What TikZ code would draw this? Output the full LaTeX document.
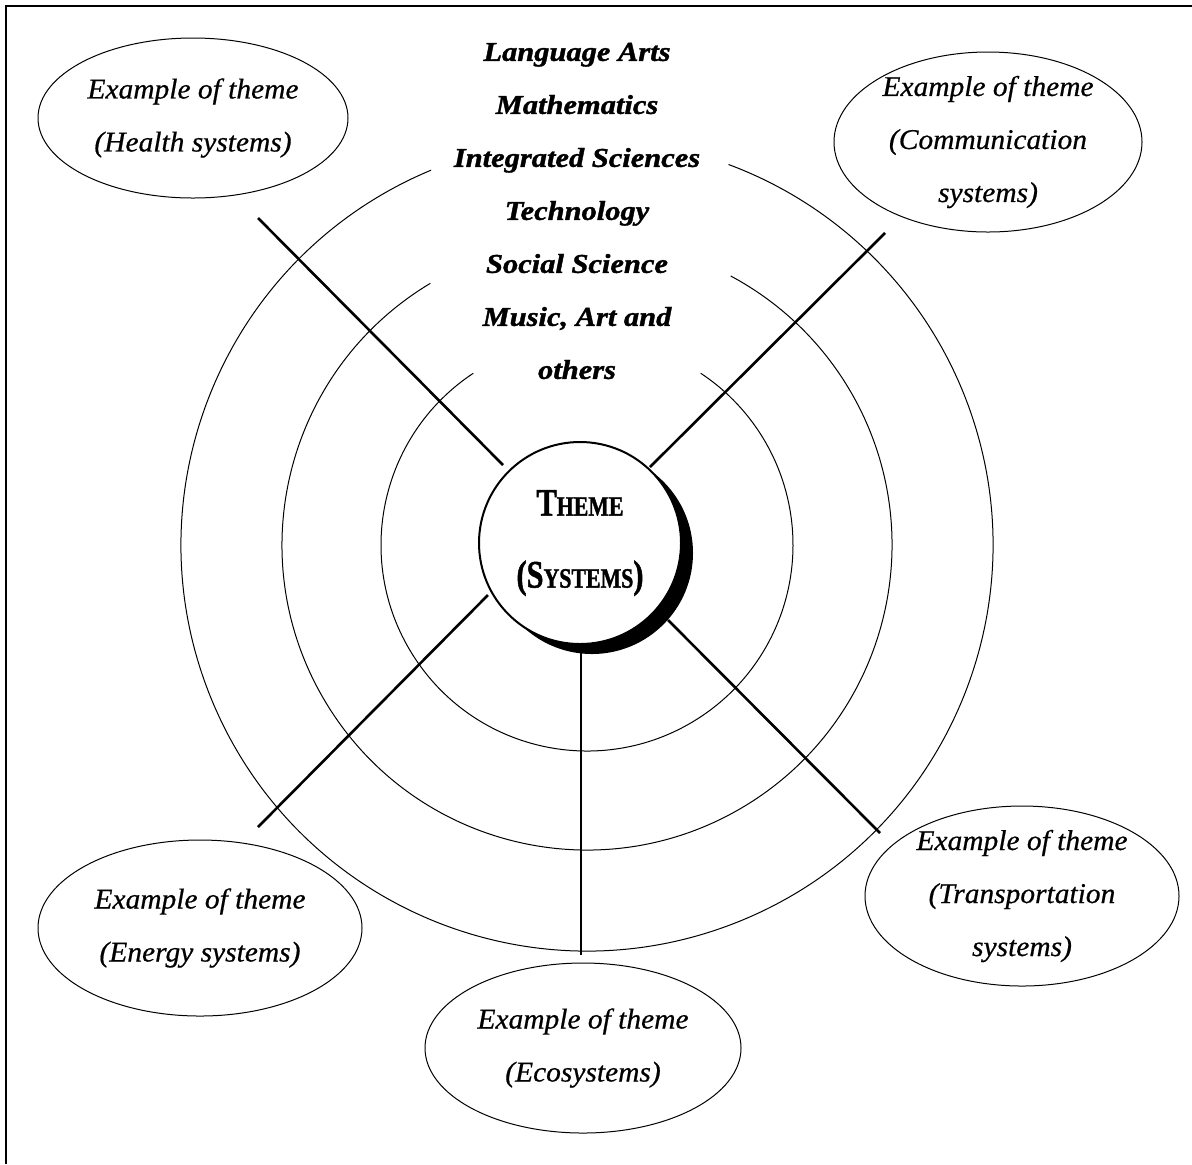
\documentclass[tikz,border=0pt]{standalone}
\usepackage{fontspec}
\setmainfont{Liberation Serif}
\newfontfamily\ellfont[FakeBold=0.6,FakeStretch=1.03]{Liberation Serif Italic}
\newfontfamily\subjfont[FakeStretch=1.12,FakeBold=1.4]{Liberation Serif Bold Italic}
\newfontfamily\themefont[FakeStretch=0.78,FakeBold=1.2]{Liberation Serif Bold}
\usetikzlibrary{shapes.geometric,shadows}
\begin{document}
\begin{tikzpicture}[x=0.5pt,y=-0.5pt,
  ring/.style={line width=0.5pt},
  spoke/.style={line width=1.3pt},
  frameline/.style={line width=0.9pt},
  themeell/.style={ellipse, draw, line width=0.5pt, inner sep=-20pt, align=center,
    font=\ellfont\fontsize{14.3}{26.5}\selectfont},
  subjects/.style={align=center, inner sep=0pt,
    font=\subjfont\fontsize{13.6}{26.5}\selectfont},
  themecircle/.style={circle, draw, line width=1pt, fill=white, minimum size=101pt,
    inner sep=-20pt, align=center, font=\themefont\fontsize{19.5}{36}\selectfont,
    drop shadow={shadow xshift=6pt, shadow yshift=-5pt, fill=black, opacity=1}}
]
\useasboundingbox (0,0) rectangle (1192,1164);
% frame (top and left only)
\draw[frameline] (1192,6) -- (6,6) -- (6,1164);

% concentric rings with a gap at the top for the subject list
\coordinate (ctr) at (587,545);
\draw[ring] ([shift={(112.6:203pt)}]ctr) arc[start angle=112.6, end angle=429.6, radius=203pt];
\draw[ring] ([shift={(120.9:152.5pt)}]ctr) arc[start angle=120.9, end angle=421.9, radius=152.5pt];
\draw[ring] ([shift={(123.5:103pt)}]ctr) arc[start angle=123.5, end angle=416.5, radius=103pt];

% spokes
\coordinate (nwout) at (258,218);  \coordinate (nwin) at (503,465);
\coordinate (neout) at (885,233);  \coordinate (nein) at (650,467);
\coordinate (swout) at (258,827);  \coordinate (swin) at (488,595);
\coordinate (sout)  at (581,955);  \coordinate (sin)  at (581,650);
\coordinate (seout) at (880,833);  \coordinate (sein) at (668,620);
\draw[spoke] (nwin) -- (nwout);
\draw[spoke] (nein) -- (neout);
\draw[spoke] (swin) -- (swout);
\draw[spoke] (sin) -- (sout);
\draw[spoke] (sein) -- (seout);

% central theme
\node[themecircle] (theme) at (580,543)
  {T{\fontsize{14}{36}\selectfont HEME}\\
   (S{\fontsize{14}{36}\selectfont YSTEMS})};

% subject list
\node[subjects] (subj) at (577,211)
  {Language Arts\\Mathematics\\Integrated Sciences\\Technology\\Social Science\\Music, Art and\\others};

% example themes
\node[themeell, minimum width=155pt, minimum height=80pt] (health) at (193,118)
  {Example of theme\\(Health systems)};
\node[themeell, minimum width=154pt, minimum height=90pt] (comm) at (988,142)
  {Example of theme\\(Communication\\systems)};
\node[themeell, minimum width=162pt, minimum height=88pt] (energy) at (200,928)
  {Example of theme\\(Energy systems)};
\node[themeell, minimum width=158pt, minimum height=85pt] (eco) at (583,1048)
  {Example of theme\\(Ecosystems)};
\node[themeell, minimum width=157pt, minimum height=90pt] (trans) at (1022,896)
  {Example of theme\\(Transportation\\systems)};
\end{tikzpicture}
\end{document}
